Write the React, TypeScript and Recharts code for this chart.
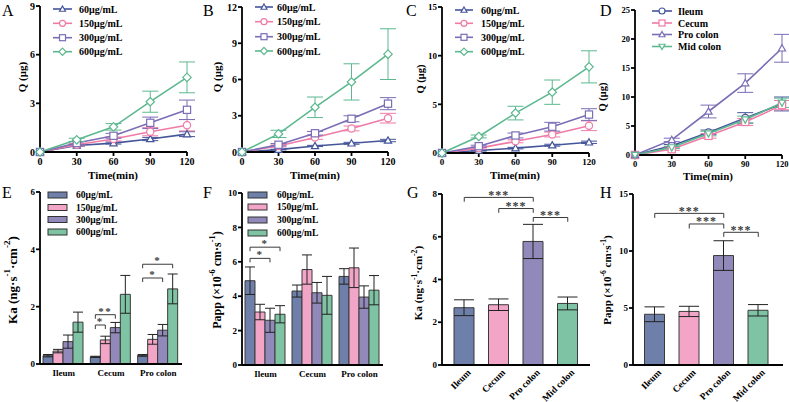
import React from 'react';
import { LineChart, Line, XAxis, YAxis, ErrorBar, BarChart, Bar, Cell, ReferenceLine } from 'recharts';

const FONT = '"Liberation Serif", "Times New Roman", serif';
const W = 789;
const H = 402;

// ---------- data ----------
const timePoints = [0, 30, 60, 90, 120];
const concLabels = ['60μg/mL', '150μg/mL', '300μg/mL', '600μg/mL'];
const regionLabels = ['Ileum', 'Cecum', 'Pro colon', 'Mid colon'];
const regions3 = ['Ileum', 'Cecum', 'Pro colon'];

// Panel A (Ileum, Q vs time)
const qA60 = [0, 0.4, 0.55, 0.8, 1.1];
const eA60 = [0, 0.05, 0.06, 0.1, 0.15];
const qA150 = [0, 0.45, 0.8, 1.25, 1.65];
const eA150 = [0, 0.08, 0.12, 0.25, 0.35];
const qA300 = [0, 0.55, 1.0, 1.8, 2.6];
const eA300 = [0, 0.1, 0.15, 0.35, 0.6];
const qA600 = [0, 0.75, 1.55, 3.1, 4.6];
const eA600 = [0, 0.1, 0.2, 0.65, 0.95];

// Panel B (Cecum)
const qB60 = [0, 0.2, 0.5, 0.72, 0.95];
const eB60 = [0, 0.03, 0.05, 0.08, 0.1];
const qB150 = [0, 0.5, 1.2, 1.95, 2.8];
const eB150 = [0, 0.08, 0.15, 0.2, 0.4];
const qB300 = [0, 0.6, 1.55, 2.75, 4.0];
const eB300 = [0, 0.1, 0.15, 0.25, 0.5];
const qB600 = [0, 1.5, 3.7, 5.8, 8.1];
const eB600 = [0, 0.3, 0.85, 1.5, 2.1];

// Panel C (Pro colon)
const qC60 = [0, 0.25, 0.5, 0.8, 1.1];
const eC60 = [0, 0.05, 0.08, 0.1, 0.12];
const qC150 = [0, 0.5, 1.2, 1.9, 2.8];
const eC150 = [0, 0.08, 0.15, 0.25, 0.5];
const qC300 = [0, 0.7, 1.8, 2.7, 3.95];
const eC300 = [0, 0.1, 0.25, 0.45, 0.6];
const qC600 = [0, 1.7, 4.1, 6.25, 8.85];
const eC600 = [0, 0.15, 0.7, 1.25, 1.65];

// Panel D (regions)
const qDIleum = [0, 1.6, 3.9, 6.4, 8.8];
const eDIleum = [0, 0.2, 0.4, 0.9, 1.2];
const qDCecum = [0, 1.0, 3.3, 5.7, 8.6];
const eDCecum = [0, 0.2, 0.4, 0.6, 0.8];
const qDPro = [0, 2.6, 7.5, 12.4, 18.4];
const eDPro = [0, 0.3, 1.1, 1.6, 2.4];
const qDMid = [0, 1.3, 3.7, 6.1, 9.0];
const eDMid = [0, 0.2, 0.4, 0.6, 0.8];

// Panel E (Ka by region, 4 concentrations)
const ka60 = [0.29, 0.25, 0.3];
const kaErr60 = [0.04, 0.02, 0.03];
const ka150 = [0.45, 0.84, 0.86];
const kaErr150 = [0.06, 0.13, 0.17];
const ka300 = [0.78, 1.27, 1.18];
const kaErr300 = [0.23, 0.18, 0.2];
const ka600 = [1.46, 2.43, 2.62];
const kaErr600 = [0.35, 0.66, 0.52];

// Panel F (Papp by region, 4 concentrations)
const papp60 = [4.9, 4.3, 5.15];
const pappErr60 = [0.8, 0.35, 0.45];
const papp150 = [3.08, 5.55, 5.65];
const pappErr150 = [0.45, 0.85, 1.15];
const papp300 = [2.6, 4.2, 3.95];
const pappErr300 = [0.7, 0.6, 0.65];
const papp600 = [2.95, 4.05, 4.35];
const pappErr600 = [0.5, 1.1, 0.85];

// Panel G / H
const kaRegion = [2.68, 2.82, 5.78, 2.88];
const kaRegionErr = [0.37, 0.27, 0.8, 0.3];
const pappRegion = [4.45, 4.7, 9.6, 4.8];
const pappRegionErr = [0.65, 0.45, 1.3, 0.5];

// significance brackets
const sigE = [
  { cat: 1, from: 0, to: 1, y: 1.36, label: '*' },
  { cat: 1, from: 0, to: 2, y: 1.72, label: '**' },
  { cat: 2, from: 0, to: 2, y: 3.0, label: '*' },
  { cat: 2, from: 0, to: 3, y: 3.48, label: '*' },
];
const sigF = [
  { cat: 0, from: 0, to: 2, y: 6.2, label: '*' },
  { cat: 0, from: 0, to: 3, y: 6.85, label: '*' },
];
const sigG = [
  { from: 0, to: 2, y: 7.84, label: '***' },
  { from: 1, to: 2, y: 7.32, label: '***' },
  { from: 2, to: 3, y: 6.9, label: '***' },
];
const sigH = [
  { from: 0, to: 2, y: 13.3, label: '***' },
  { from: 1, to: 2, y: 12.37, label: '***' },
  { from: 2, to: 3, y: 11.64, label: '***' },
];

// ---------- styles ----------
const lineColors = ['#45559a', '#ef7ba6', '#7b6db6', '#5cb88f'];
const barColors = ['#6e7fa9', '#f3a5c7', '#9189b9', '#7ec3a3'];
const concMarkers = ['triangle', 'circle', 'square', 'diamond'];
const regionMarkers = ['circle', 'square', 'triangle', 'tridown'];
const axisStyle = { stroke: '#000', strokeWidth: 1.8 };
const bracketColor = '#3a3a3a';

function Marker({ kind, cx, cy, color, s = 3.6 }: any) {
  if (cx == null || cy == null) return <g />;
  const common = { fill: '#fff', stroke: color, strokeWidth: 1.2 };
  if (kind === 'circle') return <circle cx={cx} cy={cy} r={s} {...common} />;
  if (kind === 'square') return <rect x={cx - s} y={cy - s} width={2 * s} height={2 * s} {...common} />;
  if (kind === 'diamond')
    return <polygon points={`${cx},${cy - s - 0.6} ${cx + s + 0.6},${cy} ${cx},${cy + s + 0.6} ${cx - s - 0.6},${cy}`} {...common} />;
  if (kind === 'tridown')
    return <polygon points={`${cx - s},${cy - s * 0.75} ${cx + s},${cy - s * 0.75} ${cx},${cy + s}`} {...common} />;
  return <polygon points={`${cx},${cy - s} ${cx + s},${cy + s * 0.75} ${cx - s},${cy + s * 0.75}`} {...common} />;
}

function LinePanel({ plot, yDomain, yTicks, series, tickFont }: any) {
  const data = timePoints.map((t, i) => {
    const row: any = { t };
    series.forEach((s: any, k: number) => {
      row['v' + k] = s.values[i];
      row['e' + k] = s.errors[i];
    });
    return row;
  });
  const yw = 30;
  const xh = 30;
  const margin = { top: plot.t, right: W - plot.r, bottom: H - plot.b - xh, left: plot.l - yw };
  const tick = { fontSize: tickFont, fontWeight: 700, fill: '#000', fontFamily: FONT };
  return (
    <div style={{ position: 'absolute', left: 0, top: 0 }}>
      <LineChart width={W} height={H} data={data} margin={margin}>
        <XAxis type="number" dataKey="t" domain={[0, 120]} ticks={timePoints} interval={0} height={xh}
          axisLine={axisStyle} tickLine={axisStyle} tickSize={4} tickMargin={2} tick={tick} />
        <YAxis type="number" domain={yDomain} ticks={yTicks} interval={0} width={yw}
          axisLine={axisStyle} tickLine={axisStyle} tickSize={4} tickMargin={1} tick={tick} />
        {series.map((s: any, k: number) => (
          <Line key={k} type="linear" dataKey={'v' + k} stroke={s.color} strokeWidth={1.6}
            isAnimationActive={false} activeDot={false}
            dot={(p: any) => <Marker key={`m${k}-${p.index}`} kind={s.marker} cx={p.cx} cy={p.cy} color={s.color} />}>
            <ErrorBar dataKey={'e' + k} width={8} strokeWidth={1} stroke={s.color} direction="y" />
          </Line>
        ))}
      </LineChart>
    </div>
  );
}

function GroupedBarPanel({ plot, yDomain, yTicks, series, sigs, tickFont }: any) {
  const data = regions3.map((name, i) => {
    const row: any = { name };
    series.forEach((s: any, k: number) => {
      row['v' + k] = s.values[i];
      row['e' + k] = s.errors[i];
    });
    return row;
  });
  const last = series.length - 1;
  const yw = 30;
  const xh = 30;
  const margin = { top: plot.t, right: W - plot.r, bottom: H - plot.b - xh, left: plot.l - yw };
  const tick = { fontSize: tickFont, fontWeight: 700, fill: '#000', fontFamily: FONT };
  const renderSig = (p: any) => {
    const vb = p.viewBox || {};
    const x = Number(p.x ?? vb.x);
    const y = Number(p.y ?? vb.y);
    const w = Number(p.width ?? vb.width);
    const h = Number(p.height ?? vb.height);
    let idx = p.index;
    if (idx == null && p.payload) idx = regions3.indexOf(p.payload.name);
    const value = Number(p.value);
    const items = sigs.filter((s: any) => s.cat === idx);
    if (!items.length || !value || !isFinite(x)) return <g key={`sig-${idx}`} />;
    const base = y + h;
    const ppu = h / value;
    const x0 = x - last * w;
    return (
      <g key={`sig-${idx}`}>
        {items.map((s: any, j: number) => {
          const x1 = x0 + (s.from + 0.5) * w;
          const x2 = x0 + (s.to + 0.5) * w;
          const yy = base - s.y * ppu;
          return (
            <g key={j}>
              <path d={`M${x1},${yy + 4}V${yy}H${x2}V${yy + 4}`} fill="none" stroke={bracketColor} strokeWidth={1} />
              <text x={(x1 + x2) / 2} y={yy} textAnchor="middle" fontSize={11} fontWeight={700}
                fill={bracketColor} style={{ fill: bracketColor }} fontFamily={FONT} letterSpacing={1.5}>{s.label}</text>
            </g>
          );
        })}
      </g>
    );
  };
  return (
    <div style={{ position: 'absolute', left: 0, top: 0 }}>
      <BarChart width={W} height={H} data={data} margin={margin} barCategoryGap={3} barGap={0}>
        <XAxis dataKey="name" type="category" interval={0} height={xh} axisLine={axisStyle} tickLine={false}
          tickSize={4} tickMargin={2} tick={tick} />
        <YAxis type="number" domain={yDomain} ticks={yTicks} interval={0} width={yw}
          axisLine={axisStyle} tickLine={axisStyle} tickSize={4} tickMargin={1} tick={tick} />
        {series.map((s: any, k: number) => (
          <Bar key={k} dataKey={'v' + k} fill={s.color} stroke="#3a3a3a" strokeWidth={1}
            isAnimationActive={false} label={k === last ? renderSig : undefined}>
            <ErrorBar dataKey={'e' + k} width={5} stroke="#222" strokeWidth={1} />
          </Bar>
        ))}
      </BarChart>
    </div>
  );
}

function RotTick(props: any) {
  const { x, y, payload, fs } = props;
  const ax = x + 5;
  const ay = y + 6;
  return (
    <text x={ax} y={ay} transform={`rotate(-45 ${ax} ${ay})`} textAnchor="end" dominantBaseline="central"
      fontSize={fs} fontWeight={700} fontFamily={FONT} fill="#000">{payload.value}</text>
  );
}

function RegionBarPanel({ plot, yDomain, yTicks, values, errors, sigs, padding, tickFont, drop }: any) {
  const data = regionLabels.map((name, i) => ({ name, v: values[i], e: errors[i] }));
  const yw = 30;
  const xh = 40;
  const margin = { top: plot.t, right: W - plot.r, bottom: H - plot.b - xh, left: plot.l - yw };
  const tick = { fontSize: tickFont, fontWeight: 700, fill: '#000', fontFamily: FONT };
  const starLabel = (text: string) => (p: any) => {
    const vb = p.viewBox || {};
    let cx: number;
    let cy: number;
    if (vb.x1 != null) {
      cx = (vb.x1 + vb.x2) / 2;
      cy = Math.min(vb.y1, vb.y2);
    } else {
      cx = vb.x + (vb.width || 0) / 2;
      cy = vb.y;
    }
    return (
      <text x={cx} y={cy + 1.5} textAnchor="middle" fontSize={12} fontWeight={700} fill={bracketColor}
        fontFamily={FONT} letterSpacing={1}>{text}</text>
    );
  };
  return (
    <div style={{ position: 'absolute', left: 0, top: 0 }}>
      <BarChart width={W} height={H} data={data} margin={margin} barSize={20}>
        <XAxis dataKey="name" type="category" interval={0} height={xh} padding={padding} axisLine={axisStyle}
          tickLine={false} tickSize={0} tickMargin={0} tick={(p: any) => <RotTick {...p} fs={9.5} />} />
        <YAxis type="number" domain={yDomain} ticks={yTicks} interval={0} width={yw}
          axisLine={axisStyle} tickLine={axisStyle} tickSize={4} tickMargin={1} tick={tick} />
        <Bar dataKey="v" stroke="#3a3a3a" strokeWidth={1} isAnimationActive={false}>
          {data.map((d, i) => (
            <Cell key={d.name} fill={barColors[i]} />
          ))}
          <ErrorBar dataKey="e" width={10} stroke="#222" strokeWidth={1} />
        </Bar>
        {sigs.map((s: any, j: number) => (
          <ReferenceLine key={'h' + j} ifOverflow="visible" stroke={bracketColor} strokeWidth={1}
            segment={[{ x: regionLabels[s.from], y: s.y }, { x: regionLabels[s.to], y: s.y }]}
            label={starLabel(s.label)} />
        ))}
        {sigs.map((s: any, j: number) => (
          <ReferenceLine key={'l' + j} ifOverflow="visible" stroke={bracketColor} strokeWidth={1}
            segment={[{ x: regionLabels[s.from], y: s.y }, { x: regionLabels[s.from], y: s.y - drop }]} />
        ))}
        {sigs.map((s: any, j: number) => (
          <ReferenceLine key={'r' + j} ifOverflow="visible" stroke={bracketColor} strokeWidth={1}
            segment={[{ x: regionLabels[s.to], y: s.y }, { x: regionLabels[s.to], y: s.y - drop }]} />
        ))}
      </BarChart>
    </div>
  );
}

// ---------- overlay text / legends ----------
function LineLegend({ x0, x1, tx, ys, labels, markers, fs = 10 }: any) {
  return (
    <g>
      {ys.map((y: number, i: number) => (
        <g key={i}>
          <line x1={x0} x2={x1} y1={y} y2={y} stroke={lineColors[i]} strokeWidth={1.6} />
          <Marker kind={markers[i]} cx={(x0 + x1) / 2} cy={y} color={lineColors[i]} s={3} />
          <text x={tx} y={y} dominantBaseline="central" fontSize={fs} fontWeight={700} fontFamily={FONT}
            fill="#000">{labels[i]}</text>
        </g>
      ))}
    </g>
  );
}

function BarLegend({ x0, x1, tx, ys, labels, fs = 9.5 }: any) {
  return (
    <g>
      {ys.map((y: number, i: number) => (
        <g key={i}>
          <rect x={x0} y={y - 3} width={x1 - x0} height={6} fill={barColors[i]} stroke="#333" strokeWidth={1} />
          <text x={tx} y={y} dominantBaseline="central" fontSize={fs} fontWeight={700} fontFamily={FONT}
            fill="#000">{labels[i]}</text>
        </g>
      ))}
    </g>
  );
}

function RotText({ cx, cy, fs, children }: any) {
  return (
    <text x={cx} y={cy} transform={`rotate(-90 ${cx} ${cy})`} textAnchor="middle" dominantBaseline="central"
      fontSize={fs} fontWeight={700} fontFamily={FONT} fill="#000">{children}</text>
  );
}

function KaTitle({ cx, cy, fs }: any) {
  const d = fs * 0.4;
  const sf = fs * 0.7;
  return (
    <RotText cx={cx} cy={cy} fs={fs}>
      Ka (ng·s<tspan dy={-d} fontSize={sf}>-1</tspan><tspan dy={d}>·cm</tspan>
      <tspan dy={-d} fontSize={sf}>-2</tspan><tspan dy={d}>)</tspan>
    </RotText>
  );
}

function PappTitle({ cx, cy, fs }: any) {
  const d = fs * 0.4;
  const sf = fs * 0.7;
  return (
    <RotText cx={cx} cy={cy} fs={fs}>
      Papp (×10<tspan dy={-d} fontSize={sf}>-6</tspan><tspan dy={d}> cm·s</tspan>
      <tspan dy={-d} fontSize={sf}>-1</tspan><tspan dy={d}>)</tspan>
    </RotText>
  );
}

function Overlay() {
  const letter = (t: string, x: number, y: number) => (
    <text x={x} y={y} fontSize={16} fontFamily={FONT} fill="#000">{t}</text>
  );
  const xTitle = (x: number, y: number, fs = 11) => (
    <text x={x} y={y} textAnchor="middle" fontSize={fs} fontWeight={700} fontFamily={FONT} fill="#000">Time(min)</text>
  );
  return (
    <svg width={W} height={H} style={{ position: 'absolute', left: 0, top: 0, pointerEvents: 'none' }}>
      {letter('A', 2, 16)}
      {letter('B', 203, 16)}
      {letter('C', 406, 16)}
      {letter('D', 600, 16)}
      {letter('E', 2, 198)}
      {letter('F', 203, 198)}
      {letter('G', 407, 198)}
      {letter('H', 600, 198)}

      <RotText cx={22} cy={77} fs={11}>Q (μg)</RotText>
      <RotText cx={217} cy={77} fs={11}>Q (μg)</RotText>
      <RotText cx={420} cy={79} fs={10.5}>Q (μg)</RotText>
      <RotText cx={602} cy={97} fs={10.5}>Q (μg)</RotText>
      {xTitle(113, 179)}
      {xTitle(315, 179)}
      {xTitle(515, 179)}
      {xTitle(708, 180)}

      <KaTitle cx={12} cy={280} fs={13} />
      <PappTitle cx={217} cy={280} fs={12} />
      <KaTitle cx={418} cy={283} fs={11} />
      <PappTitle cx={607} cy={280} fs={11} />

      <LineLegend x0={53} x1={72} tx={79} ys={[9, 23.3, 37.7, 51.7]} labels={concLabels} markers={concMarkers} />
      <LineLegend x0={255} x1={273} tx={277} ys={[7, 21.7, 36.7, 51]} labels={concLabels} markers={concMarkers} />
      <LineLegend x0={455} x1={473} tx={481} ys={[10, 23.3, 37.3, 51.7]} labels={concLabels} markers={concMarkers} />
      <LineLegend x0={652} x1={672} tx={678} ys={[11, 23, 34.5, 46.5]} labels={regionLabels} markers={regionMarkers} />

      <BarLegend x0={48} x1={67} tx={76} ys={[195, 207.5, 219.5, 232]} labels={concLabels} />
      <BarLegend x0={248} x1={267} tx={277} ys={[195, 207, 220, 233]} labels={concLabels} />
    </svg>
  );
}

export default function App() {
  const mk = (vals: number[][], errs: number[][], markers: string[]) =>
    vals.map((v, k) => ({ values: v, errors: errs[k], color: lineColors[k], marker: markers[k] }));
  const seriesA = mk([qA60, qA150, qA300, qA600], [eA60, eA150, eA300, eA600], concMarkers);
  const seriesB = mk([qB60, qB150, qB300, qB600], [eB60, eB150, eB300, eB600], concMarkers);
  const seriesC = mk([qC60, qC150, qC300, qC600], [eC60, eC150, eC300, eC600], concMarkers);
  const seriesD = mk([qDIleum, qDCecum, qDPro, qDMid], [eDIleum, eDCecum, eDPro, eDMid], regionMarkers);
  const mkBar = (vals: number[][], errs: number[][]) =>
    vals.map((v, k) => ({ values: v, errors: errs[k], color: barColors[k] }));
  const seriesE = mkBar([ka60, ka150, ka300, ka600], [kaErr60, kaErr150, kaErr300, kaErr600]);
  const seriesF = mkBar([papp60, papp150, papp300, papp600], [pappErr60, pappErr150, pappErr300, pappErr600]);

  return (
    <div style={{ position: 'absolute', left: 0, top: 0, width: W, height: H, background: '#fff', overflow: 'hidden' }}>
      <LinePanel plot={{ l: 40, r: 187, t: 6, b: 152 }} yDomain={[0, 9]} yTicks={[0, 3, 6, 9]} series={seriesA} tickFont={10} />
      <LinePanel plot={{ l: 242, r: 388, t: 7, b: 152 }} yDomain={[0, 12]} yTicks={[0, 3, 6, 9, 12]} series={seriesB} tickFont={10} />
      <LinePanel plot={{ l: 442, r: 589, t: 7, b: 153 }} yDomain={[0, 15]} yTicks={[0, 5, 10, 15]} series={seriesC} tickFont={9} />
      <LinePanel plot={{ l: 635, r: 782, t: 10, b: 155 }} yDomain={[0, 25]} yTicks={[0, 5, 10, 15, 20, 25]} series={seriesD} tickFont={8.5} />

      <GroupedBarPanel plot={{ l: 40, r: 182, t: 192, b: 364 }} yDomain={[0, 6]} yTicks={[0, 2, 4, 6]} series={seriesE} sigs={sigE} tickFont={9} />
      <GroupedBarPanel plot={{ l: 242, r: 383, t: 193, b: 365 }} yDomain={[0, 10]} yTicks={[0, 2, 4, 6, 8, 10]} series={seriesF} sigs={sigF} tickFont={9} />

      <RegionBarPanel plot={{ l: 442, r: 590, t: 194, b: 365 }} yDomain={[0, 8]} yTicks={[0, 2, 4, 6, 8]}
        values={kaRegion} errors={kaRegionErr} sigs={sigG} padding={{ left: 5, right: 5 }} tickFont={9} drop={0.2} />
      <RegionBarPanel plot={{ l: 633, r: 783, t: 194, b: 365 }} yDomain={[0, 15]} yTicks={[0, 5, 10, 15]}
        values={pappRegion} errors={pappRegionErr} sigs={sigH} padding={{ left: 4.5, right: 7.5 }} tickFont={9} drop={0.4} />

      <Overlay />
    </div>
  );
}
